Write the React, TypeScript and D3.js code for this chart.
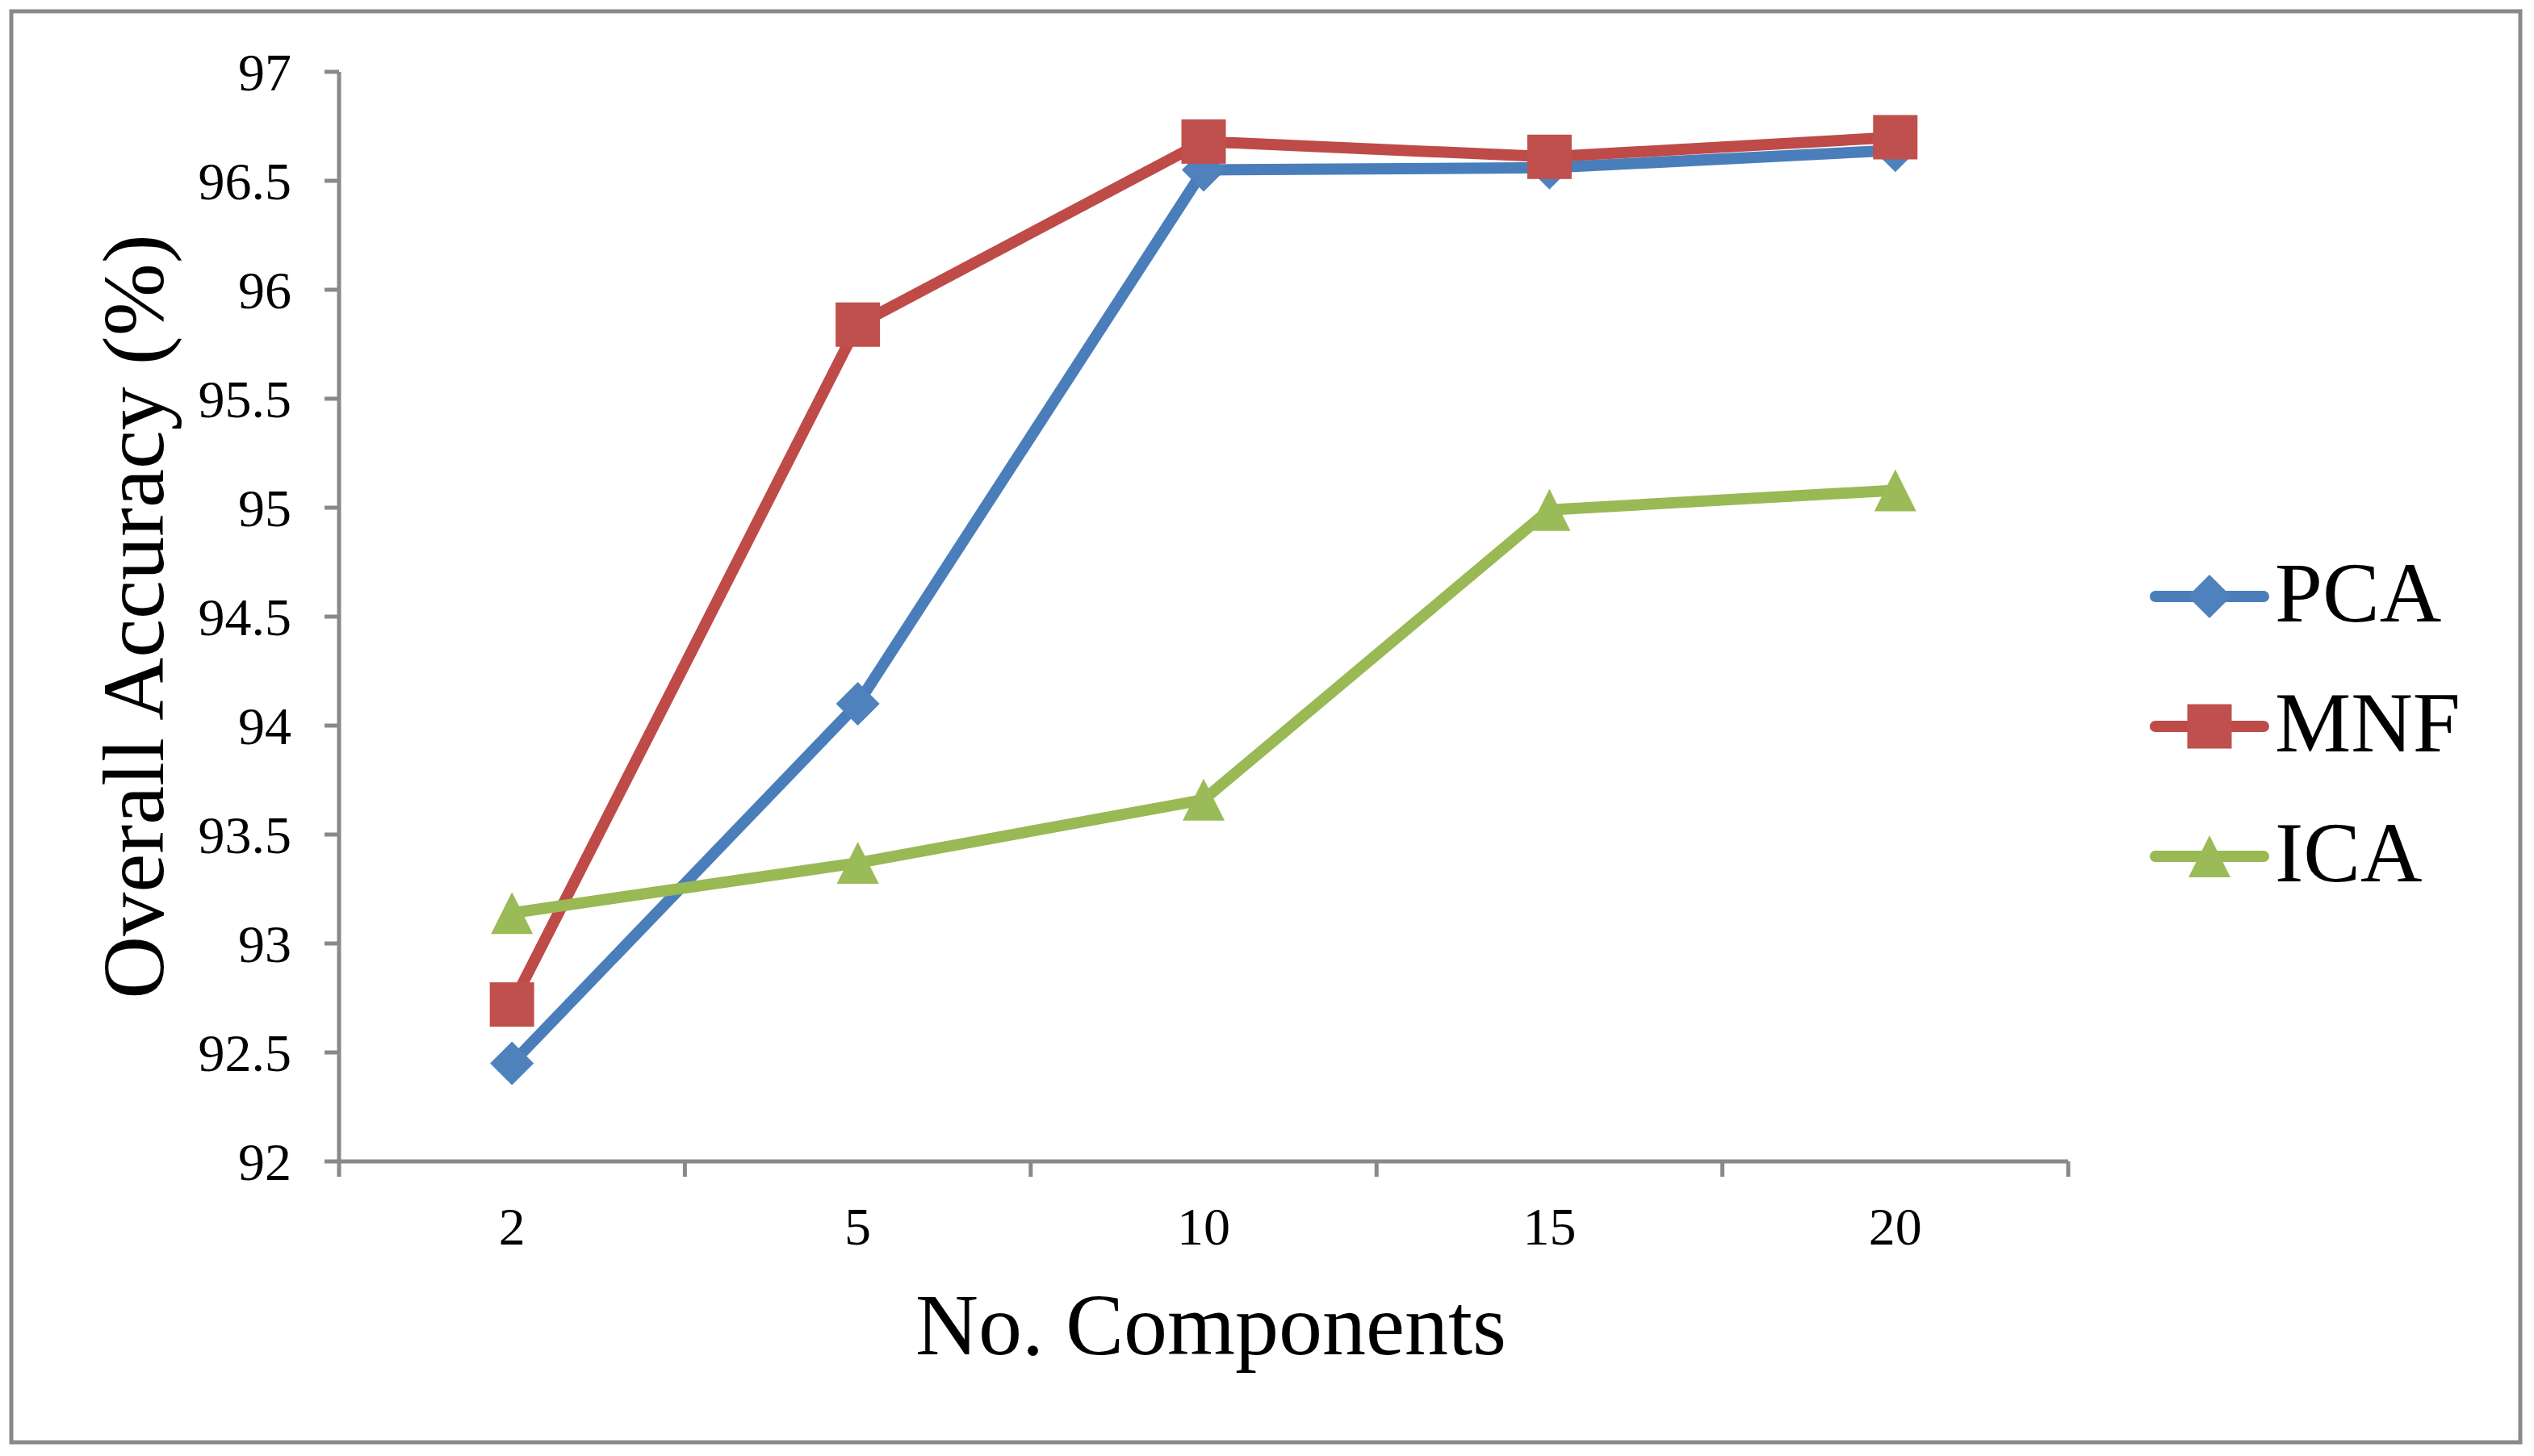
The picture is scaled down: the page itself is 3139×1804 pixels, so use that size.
import React from "react";
import * as d3 from "d3";

const categories = ["2", "5", "10", "15", "20"];
const yTicks = [92, 92.5, 93, 93.5, 94, 94.5, 95, 95.5, 96, 96.5, 97];
const pcaValues = [92.45, 94.1, 96.55, 96.56, 96.64];
const mnfValues = [92.72, 95.84, 96.68, 96.61, 96.7];
const icaValues = [93.14, 93.37, 93.66, 94.99, 95.08];
const seriesNames = ["PCA", "MNF", "ICA"];
const lineColors = ["#4A7EBB", "#BE4B48", "#98B954"];
const markerColors = ["#4F81BD", "#C0504D", "#9BBB59"];
const markerShapes = ["diamond", "square", "triangle"];
const yTitle = "Overall Accuracy (%)";
const xTitle = "No. Components";

const W = 3139;
const H = 1804;
const FONT = "'Liberation Serif', 'Times New Roman', serif";
const AXIS = "#898989";

function Marker({ shape, x, y, color }: { shape: string; x: number; y: number; color: string }) {
  if (shape === "diamond") {
    const r = 27;
    return <path d={`M${x},${y - r}L${x + r},${y}L${x},${y + r}L${x - r},${y}Z`} fill={color} />;
  }
  if (shape === "square") {
    const r = 27.5;
    return <rect x={x - r} y={y - r} width={2 * r} height={2 * r} fill={color} />;
  }
  const r = 26;
  return <path d={`M${x},${y - r}L${x + r},${y + r}L${x - r},${y + r}Z`} fill={color} />;
}

export default function App() {
  const series = [pcaValues, mnfValues, icaValues];
  const x = d3.scaleBand<string>().domain(categories).range([420, 2562]).padding(0);
  const y = d3.scaleLinear().domain([92, 97]).range([1439, 89]);
  const cx = (c: string) => (x(c) as number) + x.bandwidth() / 2;
  const line = d3
    .line<number>()
    .x((_, i) => cx(categories[i]))
    .y((v) => y(v));
  const xTickPos = categories.map((c) => x(c) as number).concat([x.range()[1]]);
  const legendY = [739, 900, 1061];

  return (
    <svg
      width={W}
      height={H}
      viewBox={`0 0 ${W} ${H}`}
      style={{ position: "absolute", left: 0, top: 0, display: "block", background: "#fff" }}
    >
      <rect x={0} y={0} width={W} height={H} fill="#fff" />
      <rect x={14} y={14} width={3108} height={1773} fill="none" stroke={AXIS} strokeWidth={5} />

      {/* Y axis */}
      <line x1={420} x2={420} y1={y(97)} y2={y(92)} stroke={AXIS} strokeWidth={5} />
      {yTicks.map((t) => (
        <g key={t}>
          <line x1={402} x2={420} y1={y(t)} y2={y(t)} stroke={AXIS} strokeWidth={5} />
          <text x={361} y={y(t) + 23} textAnchor="end" fontFamily={FONT} fontSize={66} fill="#000">
            {String(t)}
          </text>
        </g>
      ))}

      {/* X axis */}
      <line x1={418} x2={2562} y1={y(92)} y2={y(92)} stroke={AXIS} strokeWidth={5} />
      {xTickPos.map((p, i) => (
        <line key={i} x1={p} x2={p} y1={y(92)} y2={y(92) + 19} stroke={AXIS} strokeWidth={5} />
      ))}
      {categories.map((c) => (
        <text key={c} x={cx(c)} y={1542} textAnchor="middle" fontFamily={FONT} fontSize={66} fill="#000">
          {c}
        </text>
      ))}

      {/* Titles */}
      <text
        transform={`translate(202, 764) rotate(-90)`}
        textAnchor="middle"
        fontFamily={FONT}
        fontSize={108}
        fill="#000"
      >
        {yTitle}
      </text>
      <text x={1500} y={1678} textAnchor="middle" fontFamily={FONT} fontSize={108} fill="#000">
        {xTitle}
      </text>

      {/* Series */}
      {series.map((vals, si) => (
        <g key={si}>
          <path
            d={line(vals) as string}
            fill="none"
            stroke={lineColors[si]}
            strokeWidth={14}
            strokeLinejoin="round"
            strokeLinecap="round"
          />
          {vals.map((v, i) => (
            <Marker key={i} shape={markerShapes[si]} x={cx(categories[i])} y={y(v)} color={markerColors[si]} />
          ))}
        </g>
      ))}

      {/* Legend */}
      {seriesNames.map((name, si) => (
        <g key={name}>
          <line
            x1={2670}
            x2={2804}
            y1={legendY[si]}
            y2={legendY[si]}
            stroke={lineColors[si]}
            strokeWidth={14}
            strokeLinecap="round"
          />
          <Marker shape={markerShapes[si]} x={2737} y={legendY[si]} color={markerColors[si]} />
          <text x={2818} y={legendY[si] + 31} fontFamily={FONT} fontSize={106} fill="#000">
            {name}
          </text>
        </g>
      ))}
    </svg>
  );
}
